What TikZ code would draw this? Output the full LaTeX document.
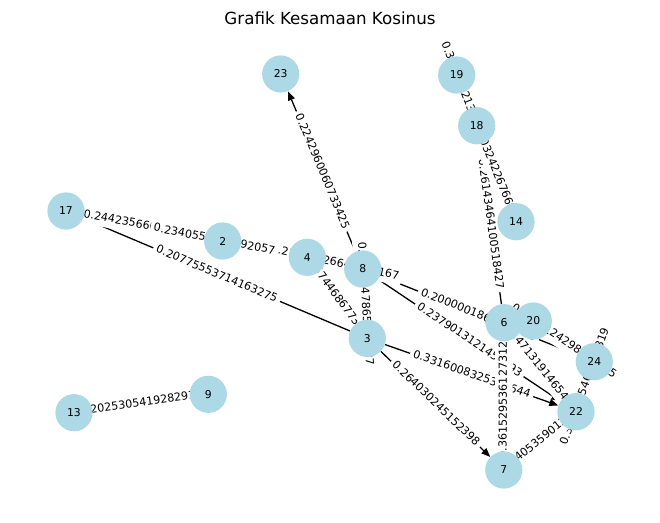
\documentclass[tikz,border=0pt]{standalone}
\usepackage{fontspec}
\setmainfont{DejaVu Sans}
\usetikzlibrary{arrows.meta}
\pgfdeclarelayer{edgelayer}
\pgfdeclarelayer{labellayer}
\pgfsetlayers{edgelayer,labellayer,main}
\definecolor{nodeblue}{HTML}{ADD8E6}
\begin{document}
\begin{tikzpicture}[x=1pt,y=-1pt,
  vtx/.style={circle, fill=nodeblue, minimum size=37.2pt, inner sep=0pt, font=\fontsize{10.8}{13}\selectfont},
  conn/.style={line width=1.3pt, black},
  arr/.style={conn, -{Triangle[length=9pt,width=7pt]}},
  elabel/.style={sloped, pos=0.5, fill=white, rounded corners=3.3pt, inner sep=3.3pt, text height=8.4pt, text depth=2.6pt, font=\fontsize{11.1}{13}\selectfont}
]
\useasboundingbox (0,0) rectangle (660,522);
\node (title) at (330,18) {\fontsize{16.7}{20}\selectfont Grafik Kesamaan Kosinus};

\node[vtx] (n23) at (280.7,74) {23};
\node[vtx] (n19) at (456.7,75) {19};
\node[vtx] (n18) at (476.7,125.7) {18};
\node[vtx] (n14) at (516,221.7) {14};
\node[vtx] (n17) at (66,211) {17};
\node[vtx] (n2) at (222.7,241) {2};
\node[vtx] (n4) at (307.3,257.3) {4};
\node[vtx] (n8) at (362.7,269) {8};
\node[vtx] (n3) at (367.3,338.3) {3};
\node[vtx] (n6) at (504,322.7) {6};
\node[vtx] (n20) at (533.3,321) {20};
\node[vtx] (n24) at (594.3,361.7) {24};
\node[vtx] (n22) at (576,411.7) {22};
\node[vtx] (n7) at (503.8,470) {7};
\node[vtx] (n13) at (74,412.7) {13};
\node[vtx] (n9) at (208.3,394.3) {9};

\begin{pgfonlayer}{edgelayer}
\draw[arr] (n8) -- (n23);
\draw[conn] (n17) -- (n2);
\draw[conn] (n17) -- (n8);
\draw[conn] (n4) -- (n8);
\draw[conn] (n17) -- (n3);
\draw[conn] (n4) -- (n3);
\draw[conn] (n8) -- (n3);
\draw[conn] (n8) -- (n24);
\draw[arr] (n8) -- (n22);
\draw[arr] (n3) -- (n22);
\draw[arr] (n3) -- (n7);
\draw[conn] (n7) -- (n6);
\draw[conn] (n18) -- (n6);
\draw[conn] (n18) -- (n14);
\draw[conn] (n19) -- (n18);
\draw[conn] (n6) -- (n22);
\draw[conn] (n20) -- (n24);
\draw[conn] (n22) -- (n24);
\draw[conn] (n7) -- (n22);
\draw[conn] (n13) -- (n9);
\end{pgfonlayer}

\begin{pgfonlayer}{labellayer}
\path (n19) -- node[elabel] {0.3958742139153647} (n18);
\path (n18) -- node[elabel] {0.26143464100518427} (n6);
\path (n18) -- node[elabel] {0.1103242267660954} (n14);
\path (n8) -- node[elabel] {0.2242960060733425} (n23);
\path (n17) -- node[elabel] {0.2442356665981724} (n2);
\path (n4) -- node[elabel] {0.21357926640831167} (n8);
\path (n17) -- node[elabel] {0.2340551834092057} (n8);
\path (n17) -- node[elabel] {0.20775553714163275} (n3);
\path (n4) -- node[elabel] {0.2157446867730582} (n3);
\path (n8) -- node[elabel] {0.2193047865103527} (n3);
\path (n8) -- node[elabel] {0.2000001860413579} (n24);
\path (n8) -- node[elabel] {0.2379013121450893} (n22);
\path (n3) -- node[elabel] {0.3316008325368644} (n22);
\path (n3) -- node[elabel] {0.264030245152398} (n7);
\path (n6) -- node[elabel] {0.2147131914654173} (n22);
\path (n20) -- node[elabel] {0.1563124298107335} (n24);
\path (n22) -- node[elabel] {0.3270815462073819} (n24);
\path (n7) -- node[elabel] {0.3824053590126738} (n22);
\path (n7) -- node[elabel] {0.3615295361273126} (n6);
\path (n13) -- node[elabel] {0.2025305419282917} (n9);
\end{pgfonlayer}
\end{tikzpicture}
\end{document}
